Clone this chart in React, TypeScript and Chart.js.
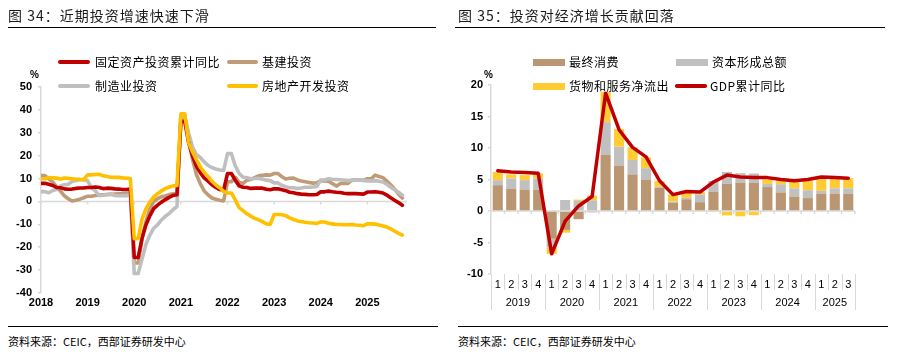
import React, { useEffect, useRef } from "react";
import { Chart, registerables } from "chart.js";

Chart.register(...registerables);

// ---------------- Left chart data (monthly, Jan 2018 .. Oct 2025, cumulative YoY %) ----------------
const START_YEAR = 2018;
const LEFT_YEAR_TICKS = [2018, 2019, 2020, 2021, 2022, 2023, 2024, 2025];

const faiYoY = [
  7.9, 7.9, 7.5, 7.0, 6.1, 6.0, 5.5, 5.3, 5.4, 5.7, 5.9, 5.9,
  6.1, 6.1, 6.3, 6.1, 5.6, 5.8, 5.7, 5.5, 5.4, 5.2, 5.2, 5.4,
  -24.5, -24.5, -16.1, -10.3, -6.3, -3.1, -1.6, -0.3, 0.8, 1.8, 2.6, 2.9,
  35.0, 35.0, 25.6, 19.9, 15.4, 12.6, 10.3, 8.9, 7.3, 6.1, 5.2, 4.9,
  12.2, 12.2, 9.3, 6.8, 6.2, 6.1, 5.7, 5.8, 5.9, 5.8, 5.3, 5.1,
  5.5, 5.5, 5.1, 4.7, 4.0, 3.8, 3.4, 3.2, 3.1, 2.9, 2.9, 3.0,
  4.2, 4.2, 4.5, 4.2, 4.0, 3.9, 3.6, 3.4, 3.4, 3.4, 3.3, 3.2,
  4.1, 4.1, 4.2, 4.0, 3.7, 2.8, 1.6, 0.5, -0.5, -1.7,
];

const infraYoY = [
  11.3, 11.3, 10.0, 8.5, 6.5, 4.5, 2.5, 1.2, 0.2, 0.5, 1.0, 1.6,
  2.3, 2.3, 2.6, 2.8, 2.9, 3.0, 3.1, 3.2, 3.3, 3.4, 3.6, 3.8,
  -26.9, -26.9, -16.4, -8.8, -3.3, -0.1, 1.2, 2.0, 2.4, 3.0, 3.3, 3.4,
  36.6, 36.6, 26.8, 18.4, 11.8, 7.8, 4.6, 2.9, 1.5, 1.0, 0.5, 0.2,
  8.6, 8.6, 10.5, 8.3, 7.9, 9.3, 9.6, 10.4, 11.2, 11.4, 11.6, 11.5,
  12.2, 12.2, 10.8, 9.8, 10.1, 10.2, 9.4, 8.9, 8.6, 8.3, 8.0, 8.2,
  9.0, 9.0, 8.8, 7.8, 6.7, 7.7, 8.0, 7.9, 9.3, 9.4, 9.4, 9.2,
  9.9, 9.9, 11.5, 10.9, 10.4, 8.9, 7.3, 5.4, 3.3, 1.5,
];

const manufYoY = [
  4.3, 4.3, 3.8, 4.8, 5.2, 6.8, 7.3, 7.5, 8.7, 9.1, 9.5, 9.5,
  9.0, 5.9, 4.6, 2.5, 2.7, 3.0, 3.3, 2.6, 2.5, 2.6, 2.5, 3.1,
  -31.5, -31.5, -25.2, -18.8, -14.8, -11.7, -10.2, -8.1, -6.5, -5.3, -3.5, -2.2,
  37.3, 37.3, 29.8, 23.8, 20.4, 19.2, 17.3, 15.7, 14.8, 14.2, 13.7, 13.5,
  20.9, 20.9, 15.6, 12.2, 10.6, 10.4, 9.9, 10.0, 10.1, 9.7, 9.3, 9.1,
  8.1, 8.1, 7.0, 6.4, 6.0, 6.0, 5.7, 5.9, 6.2, 6.2, 6.3, 6.5,
  9.4, 9.4, 9.9, 9.7, 9.6, 9.5, 9.3, 9.1, 9.2, 9.3, 9.3, 9.2,
  9.0, 9.0, 9.1, 8.8, 8.5, 7.5, 6.2, 5.1, 4.0, 2.7,
];

const realEstateYoY = [
  9.9, 9.9, 10.4, 10.3, 10.2, 9.7, 10.2, 10.1, 9.9, 9.7, 9.7, 9.5,
  11.6, 11.6, 11.8, 11.9, 11.2, 10.9, 10.6, 10.5, 10.5, 10.3, 10.2, 9.9,
  -16.3, -16.3, -7.7, -3.3, -0.3, 1.9, 3.4, 4.6, 5.6, 6.3, 6.8, 7.0,
  38.3, 38.3, 25.6, 21.6, 18.3, 15.0, 12.7, 10.9, 8.8, 7.2, 6.0, 4.4,
  3.7, 3.7, 0.7, -2.7, -4.0, -5.4, -6.4, -7.4, -8.0, -8.8, -9.8, -10.0,
  -5.7, -5.7, -5.8, -6.2, -7.2, -7.9, -8.5, -8.8, -9.1, -9.3, -9.4, -9.6,
  -9.0, -9.0, -9.5, -9.8, -10.1, -10.1, -10.2, -10.2, -10.1, -10.3, -10.4, -10.6,
  -9.8, -9.8, -9.9, -10.3, -10.7, -11.2, -12.0, -12.9, -13.9, -14.7,
];

// ---------------- Right chart data (quarterly, 2019Q1 .. 2025Q3, pct points) ----------------
const quarterLabels = [
  "1", "2", "3", "4", "1", "2", "3", "4", "1", "2", "3", "4", "1", "2", "3", "4",
  "1", "2", "3", "4", "1", "2", "3", "4", "1", "2", "3",
];
const quarterYears = ["2019", "2020", "2021", "2022", "2023", "2024", "2025"];

const consumption = [
  4.1, 3.5, 3.4, 3.4, -4.4, -3.0, -1.3, -0.2, 8.9, 7.2, 5.8, 5.0, 3.7, 1.3,
  1.85, 1.4, 3.05, 4.3, 4.5, 4.5, 3.8, 2.95, 2.3, 2.05, 2.75, 2.75, 2.75,
];
const capitalFormation = [
  0.8, 1.65, 1.5, 1.75, -1.4, 1.75, 1.6, 1.7, 5.2, 3.0, 2.3, 1.8, 0.15, 0.2,
  0.25, 1.2, 1.7, 1.9, 1.5, 1.45, 0.5, 1.3, 1.3, 1.25, 0.45, 0.85, 0.85,
];
const netExports = [
  1.3, 0.65, 0.8, 0.8, -1.0, -0.45, 0.2, 0.75, 4.8, 2.8, 2.0, 1.7, 0.9, 1.1,
  0.8, 0.4, -0.15, -0.7, -0.85, -0.65, 0.7, 0.5, 1.05, 1.5, 1.95, 1.5, 1.6,
];
const gdpYoY = [
  6.4, 6.2, 6.1, 6.0, -6.8, -1.6, 0.8, 2.3, 18.7, 12.9, 10.1, 8.6, 4.8, 2.6,
  3.1, 3.0, 4.6, 5.7, 5.4, 5.3, 5.3, 5.0, 4.8, 5.0, 5.4, 5.3, 5.2,
];

// ---------------- styles ----------------
const RED = "#C00000";
const TAN = "#BF9B78";
const GREY = "#BFBFBF";
const GOLD = "#FFC000";
const BAR_BROWN = "#BA9672";
const BAR_GREY = "#C0C0C0";
const BAR_YELLOW = "#FFCC33";
const AXIS_GREY = "#D9D9D9";
const NUM_FONT = "'Liberation Sans', Arial, sans-serif";
const CJK_FONT = "'Noto Sans CJK SC', 'Noto Sans', sans-serif";

const toPoints = (arr: number[]) => arr.map((v, i) => ({ x: START_YEAR + i / 12, y: v }));

const leftZeroLine = {
  id: "leftZeroLine",
  beforeDatasetsDraw(chart: any) {
    const { ctx, chartArea, scales } = chart;
    const y0 = scales.y.getPixelForValue(0);
    ctx.save();
    ctx.strokeStyle = AXIS_GREY;
    ctx.lineWidth = 1.5;
    ctx.beginPath();
    ctx.moveTo(chartArea.left, y0);
    ctx.lineTo(chartArea.right, y0);
    LEFT_YEAR_TICKS.forEach((yr) => {
      const x = scales.x.getPixelForValue(yr);
      ctx.moveTo(x, y0);
      ctx.lineTo(x, y0 + 3);
    });
    ctx.stroke();
    ctx.restore();
  },
};

const rightAxisDecor = {
  id: "rightAxisDecor",
  beforeDatasetsDraw(chart: any) {
    const { ctx, chartArea, scales } = chart;
    const y0 = scales.y.getPixelForValue(0);
    const n = quarterLabels.length;
    const w = (chartArea.right - chartArea.left) / n;
    ctx.save();
    ctx.strokeStyle = AXIS_GREY;
    ctx.lineWidth = 1.5;
    ctx.beginPath();
    ctx.moveTo(chartArea.left, y0);
    ctx.lineTo(chartArea.right, y0);
    for (let i = 1; i <= n; i++) {
      const x = chartArea.left + i * w;
      ctx.moveTo(x, y0);
      ctx.lineTo(x, y0 + 3);
    }
    ctx.stroke();
    // separators under the axis
    ctx.lineWidth = 1;
    ctx.beginPath();
    for (let i = 0; i <= n; i++) {
      const x = Math.round(chartArea.left + i * w) + 0.5;
      const long = i % 4 === 0 || i === n;
      ctx.moveTo(x, chartArea.bottom);
      ctx.lineTo(x, chartArea.bottom + (long ? 36 : 16));
    }
    ctx.stroke();
    // year labels
    ctx.fillStyle = "#000";
    ctx.font = `11px ${NUM_FONT}`;
    ctx.textAlign = "center";
    ctx.textBaseline = "middle";
    quarterYears.forEach((yr, j) => {
      const a = j * 4;
      const b = Math.min(a + 4, n);
      const x = chartArea.left + ((a + b) / 2) * w;
      ctx.fillText(yr, x, chartArea.bottom + 29);
    });
    ctx.restore();
  },
};

function LeftChart() {
  const ref = useRef<HTMLCanvasElement>(null);
  useEffect(() => {
    const line = (label: string, data: number[], color: string, order: number) => ({
      label,
      data: toPoints(data),
      borderColor: color,
      backgroundColor: color,
      borderWidth: 3.6,
      pointRadius: 0,
      tension: 0,
      borderJoinStyle: "round" as const,
      borderCapStyle: "round" as const,
      order,
    });
    const chart = new Chart(ref.current!, {
      type: "line",
      data: {
        datasets: [
          line("固定资产投资累计同比", faiYoY, RED, 1),
          line("基建投资", infraYoY, TAN, 3),
          line("制造业投资", manufYoY, GREY, 2),
          line("房地产开发投资", realEstateYoY, GOLD, 0),
        ],
      },
      options: {
        animation: false,
        responsive: false,
        events: [],
        layout: { padding: { left: 0, top: 87, right: 43, bottom: 0 } },
        plugins: { legend: { display: false }, tooltip: { enabled: false } },
        scales: {
          x: {
            type: "linear",
            min: 2018,
            max: 2025.85,
            afterFit: (s: any) => { s.height = 27; },
            afterBuildTicks: (s: any) => {
              s.ticks = LEFT_YEAR_TICKS.map((v) => ({ value: v }));
            },
            grid: { display: false, drawTicks: false },
            border: { display: false },
            ticks: {
              autoSkip: false,
              maxRotation: 0,
              padding: 3,
              color: "#000",
              font: { family: NUM_FONT, size: 11, weight: "bold" },
              callback: (v: any) => String(v),
            },
          },
          y: {
            min: -40,
            max: 50,
            afterFit: (s: any) => { s.width = 41; },
            grid: { drawOnChartArea: false, drawTicks: true, tickLength: 3, color: AXIS_GREY, lineWidth: 1.5 },
            border: { color: AXIS_GREY, width: 1.5 },
            ticks: {
              stepSize: 10,
              padding: 6,
              color: "#000",
              font: { family: NUM_FONT, size: 11, weight: "bold" },
            },
          },
        },
      },
      plugins: [leftZeroLine],
    } as any);
    return () => chart.destroy();
  }, []);
  return (
    <canvas
      ref={ref}
      width={450}
      height={320}
      style={{ position: "absolute", left: 0, top: 0, width: 450, height: 320 }}
    />
  );
}

function RightChart() {
  const ref = useRef<HTMLCanvasElement>(null);
  useEffect(() => {
    const bar = (label: string, data: number[], color: string) => ({
      type: "bar" as const,
      label,
      data,
      backgroundColor: color,
      borderWidth: 0,
      barPercentage: 0.75,
      categoryPercentage: 1,
      stack: "gdp",
      order: 1,
    });
    const chart = new Chart(ref.current!, {
      type: "bar",
      data: {
        labels: quarterLabels,
        datasets: [
          bar("最终消费", consumption, BAR_BROWN),
          bar("资本形成总额", capitalFormation, BAR_GREY),
          bar("货物和服务净流出", netExports, BAR_YELLOW),
          {
            type: "line",
            label: "GDP累计同比",
            data: gdpYoY,
            borderColor: RED,
            backgroundColor: RED,
            borderWidth: 3.5,
            pointRadius: 0,
            tension: 0,
            borderJoinStyle: "round",
            borderCapStyle: "round",
            stack: "line",
            order: 0,
          },
        ],
      },
      options: {
        animation: false,
        responsive: false,
        events: [],
        layout: { padding: { left: 0, top: 85, right: 46, bottom: 0 } },
        plugins: { legend: { display: false }, tooltip: { enabled: false } },
        scales: {
          x: {
            stacked: true,
            offset: true,
            afterFit: (s: any) => { s.height = 46; },
            grid: { display: false, drawTicks: false },
            border: { display: false },
            ticks: {
              autoSkip: false,
              maxRotation: 0,
              padding: 4,
              color: "#000",
              font: { family: NUM_FONT, size: 11 },
            },
          },
          y: {
            stacked: true,
            min: -10,
            max: 20,
            afterFit: (s: any) => { s.width = 41; },
            grid: { drawOnChartArea: false, drawTicks: true, tickLength: 3, color: AXIS_GREY, lineWidth: 1.5 },
            border: { color: AXIS_GREY, width: 1.5 },
            ticks: {
              stepSize: 5,
              padding: 5,
              color: "#000",
              font: { family: NUM_FONT, size: 11, weight: "bold" },
            },
          },
        },
      },
      plugins: [rightAxisDecor],
    } as any);
    return () => chart.destroy();
  }, []);
  return (
    <canvas
      ref={ref}
      width={451}
      height={320}
      style={{ position: "absolute", left: 450, top: 0, width: 451, height: 320 }}
    />
  );
}

const abs = (left: number, top: number, extra: React.CSSProperties = {}): React.CSSProperties => ({
  position: "absolute",
  left,
  top,
  ...extra,
});

function LegendText({ x, cy, text }: { x: number; cy: number; text: string }) {
  return (
    <div
      style={abs(x, cy - 9, {
        height: 18,
        lineHeight: "18px",
        fontSize: 12,
        letterSpacing: 0.5,
        color: "#000",
        fontFamily: CJK_FONT,
        whiteSpace: "nowrap",
      })}
    >
      {text}
    </div>
  );
}

function Swatch({ x, cy, w, h, color, round }: { x: number; cy: number; w: number; h: number; color: string; round?: boolean }) {
  return <div style={abs(x, cy - h / 2, { width: w, height: h, background: color, borderRadius: round ? h / 2 : 0 })} />;
}

export default function App() {
  const titleStyle: React.CSSProperties = {
    fontSize: 14,
    letterSpacing: 1,
    color: "#1a1a1a",
    fontFamily: CJK_FONT,
    whiteSpace: "nowrap",
    height: 20,
    lineHeight: "20px",
  };
  const sourceStyle: React.CSSProperties = {
    fontSize: 11,
    color: "#000",
    fontFamily: CJK_FONT,
    whiteSpace: "nowrap",
    height: 16,
    lineHeight: "16px",
  };
  const pctStyle: React.CSSProperties = {
    fontSize: 10,
    fontWeight: "bold",
    fontFamily: NUM_FONT,
    color: "#000",
    height: 12,
    lineHeight: "12px",
  };
  return (
    <div style={{ position: "absolute", left: 0, top: 0, width: 901, height: 357, background: "#fff", overflow: "hidden" }}>
      <LeftChart />
      <RightChart />

      {/* titles */}
      <div style={abs(8, 5, titleStyle)}>图 34：近期投资增速快速下滑</div>
      <div style={abs(8, 27, { width: 428, borderTop: "1.5px solid #000" })} />
      <div style={abs(458, 5, titleStyle)}>图 35：投资对经济增长贡献回落</div>
      <div style={abs(455, 27, { width: 430, borderTop: "1.5px solid #000" })} />

      {/* left legend */}
      <Swatch x={58} cy={62} w={32} h={4} color={RED} round />
      <LegendText x={95} cy={62} text="固定资产投资累计同比" />
      <Swatch x={227} cy={62} w={31} h={4} color={TAN} round />
      <LegendText x={262} cy={62} text="基建投资" />
      <Swatch x={58} cy={86} w={32} h={4} color={GREY} round />
      <LegendText x={95} cy={86} text="制造业投资" />
      <Swatch x={227} cy={86} w={31} h={4} color={GOLD} round />
      <LegendText x={262} cy={86} text="房地产开发投资" />
      <div style={abs(30, 69, pctStyle)}>%</div>

      {/* right legend */}
      <Swatch x={533} cy={62} w={32} h={7} color={BAR_BROWN} />
      <LegendText x={569} cy={62} text="最终消费" />
      <Swatch x={676} cy={62} w={32} h={7} color={BAR_GREY} />
      <LegendText x={712} cy={62} text="资本形成总额" />
      <Swatch x={533} cy={86} w={32} h={7} color={BAR_YELLOW} />
      <LegendText x={569} cy={86} text="货物和服务净流出" />
      <Swatch x={675} cy={86} w={32} h={3.5} color={RED} round />
      <LegendText x={710} cy={86} text="GDP累计同比" />
      <div style={abs(484, 69, pctStyle)}>%</div>

      {/* sources */}
      <div style={abs(8, 326, { width: 430, borderTop: "1.5px solid #000" })} />
      <div style={abs(458, 326, { width: 430, borderTop: "1.5px solid #000" })} />
      <div style={abs(8, 333, sourceStyle)}>资料来源：CEIC，西部证券研发中心</div>
      <div style={abs(458, 333, sourceStyle)}>资料来源：CEIC，西部证券研发中心</div>
    </div>
  );
}
